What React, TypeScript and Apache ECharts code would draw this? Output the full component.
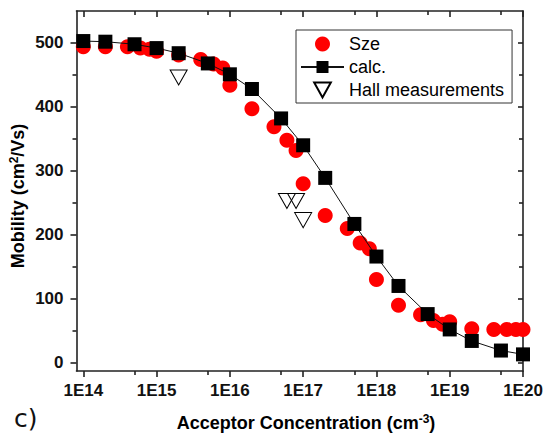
import React, { useEffect, useRef } from "react";
import * as echarts from "echarts";

// Sze reference data (concentration in cm^-3, mobility in cm^2/Vs)
const szeConc = [1e14, 2e14, 4e14, 6e14, 8e14, 1e15, 2e15, 4e15, 6e15, 8e15, 1e16, 2e16, 4e16, 6e16, 8e16, 1e17, 2e17, 4e17, 6e17, 8e17, 1e18, 2e18, 4e18, 6e18, 8e18, 1e19, 2e19, 4e19, 6e19, 8e19, 1e20];
const szeMobility = [494, 494, 494, 492, 490, 487, 481, 474, 467, 461, 434, 397, 369, 348, 332, 280, 230, 210, 187, 178, 130, 90, 75, 66, 60, 64, 53, 52, 52, 52, 52];

// calculated curve
const calcConc = [1e14, 2e14, 5e14, 1e15, 2e15, 5e15, 1e16, 2e16, 5e16, 1e17, 2e17, 5e17, 1e18, 2e18, 5e18, 1e19, 2e19, 5e19, 1e20];
const calcMobility = [503, 502, 498, 492, 484, 468, 451, 428, 382, 340, 289, 217, 166, 120, 76, 52, 34, 19, 13];

// Hall measurements
const hallConc = [2e15, 6e16, 8e16, 1e17];
const hallMobility = [446, 253, 253, 223];

// axis ticks
const xMajorExp = [14, 15, 16, 17, 18, 19, 20];
const xMinorExp = [14, 15, 16, 17, 18, 19].map((e) => e + Math.log10(5));
const yMajor = [0, 100, 200, 300, 400, 500];
const yMinor = [50, 150, 250, 350, 450];

const X_MIN = 13.907;
const X_MAX = 20;
const Y_MIN = -13;
const Y_MAX = 550;

const AXIS_COLOR = "#222";
const FONT = "Arial";

function toPoints(xs: number[], ys: number[]) {
  return xs.map((x, i) => [Math.log10(x), ys[i]]);
}

export default function App() {
  const ref = useRef<HTMLDivElement>(null);

  useEffect(() => {
    if (!ref.current) return;
    const chart = echarts.init(ref.current, undefined, { renderer: "svg" });

    const lineStyle = { color: AXIS_COLOR, width: 1.6 };

    const xBase = (extra: any) => ({
      type: "value",
      min: X_MIN,
      max: X_MAX,
      splitLine: { show: false },
      ...extra,
    });
    const yBase = (extra: any) => ({
      type: "value",
      min: Y_MIN,
      max: Y_MAX,
      splitLine: { show: false },
      ...extra,
    });

    const richFor = (size: number) => ({
      b: { fontSize: size, fontWeight: "bold", fontFamily: FONT, color: "#111", lineHeight: size + 3 },
      s: { fontSize: Math.round(size * 0.65), fontWeight: "bold", fontFamily: FONT, color: "#111", verticalAlign: "top" },
    });

    const option: any = {
      animation: false,
      grid: {
        left: 76.5,
        right: 23,
        top: 11,
        bottom: 68,
        containLabel: false,
        outerBoundsMode: "none",
      },
      legend: {
        orient: "vertical",
        left: 296,
        top: 30,
        itemWidth: 43,
        itemHeight: 15,
        itemGap: 5,
        padding: [5, 8, 4, 4],
        borderColor: "#333",
        borderWidth: 1,
        textStyle: { fontSize: 18, fontFamily: FONT, color: "#000" },
        data: ["Sze", "calc.", "Hall measurements"],
      },
      xAxis: [
        xBase({
          position: "bottom",
          axisLine: { show: true, onZero: false, lineStyle },
          axisTick: { show: true, inside: false, length: 6, customValues: xMajorExp, lineStyle },
          axisLabel: {
            show: true,
            customValues: xMajorExp,
            formatter: (v: number) => "1E" + Math.round(v),
            fontSize: 17,
            fontWeight: "bold",
            fontFamily: FONT,
            color: "#111",
            margin: 11,
          },
        }),
        xBase({
          position: "bottom",
          axisLine: { show: false, onZero: false },
          axisTick: { show: true, inside: false, length: 4, customValues: xMinorExp, lineStyle },
          axisLabel: { show: false },
        }),
        xBase({
          position: "top",
          axisLine: { show: true, onZero: false, lineStyle },
          axisTick: { show: true, inside: true, length: 6, customValues: xMajorExp, lineStyle },
          axisLabel: { show: false },
        }),
        xBase({
          position: "top",
          axisLine: { show: false, onZero: false },
          axisTick: { show: true, inside: true, length: 4, customValues: xMinorExp, lineStyle },
          axisLabel: { show: false },
        }),
      ],
      yAxis: [
        yBase({
          position: "left",
          axisLine: { show: true, onZero: false, lineStyle },
          axisTick: { show: true, inside: false, length: 6, customValues: yMajor, lineStyle },
          axisLabel: {
            show: true,
            customValues: yMajor,
            fontSize: 17,
            fontWeight: "bold",
            fontFamily: FONT,
            color: "#111",
            margin: 13,
          },
        }),
        yBase({
          position: "left",
          offset: 0,
          axisLine: { show: false, onZero: false },
          axisTick: { show: true, inside: false, length: 4, customValues: yMinor, lineStyle },
          axisLabel: { show: false },
        }),
        yBase({
          position: "right",
          offset: 0,
          axisLine: { show: true, onZero: false, lineStyle },
          axisTick: { show: true, inside: true, length: 5, customValues: yMajor, lineStyle },
          axisLabel: { show: false },
        }),
        yBase({
          position: "right",
          offset: 0,
          axisLine: { show: false, onZero: false },
          axisTick: { show: true, inside: true, length: 4, customValues: yMinor, lineStyle },
          axisLabel: { show: false },
        }),
      ],
      series: [
        {
          name: "Sze",
          type: "scatter",
          xAxisIndex: 0,
          yAxisIndex: 0,
          symbol: "circle",
          symbolSize: 15,
          itemStyle: { color: "#ff0000", opacity: 1 },
          data: toPoints(szeConc, szeMobility),
          z: 2,
        },
        {
          name: "calc.",
          type: "line",
          xAxisIndex: 0,
          yAxisIndex: 0,
          symbol: "rect",
          symbolSize: 14,
          showAllSymbol: true,
          itemStyle: { color: "#000" },
          lineStyle: { color: "#111", width: 1 },
          data: toPoints(calcConc, calcMobility),
          z: 3,
        },
        {
          name: "Hall measurements",
          type: "scatter",
          xAxisIndex: 0,
          yAxisIndex: 0,
          symbol: "path://M0,0L20,0L10,18Z",
          symbolSize: [17, 15],
          itemStyle: { color: "rgba(0,0,0,0)", borderColor: "#000", borderWidth: 1, opacity: 1 },
          data: toPoints(hallConc, hallMobility),
          z: 4,
        },
      ],
      graphic: [
        {
          type: "text",
          x: 18,
          y: 196,
          rotation: Math.PI / 2,
          style: {
            text: "{b|Mobility (cm}{s|2}{b|/Vs)}",
            rich: richFor(18),
            align: "center",
            verticalAlign: "middle",
          },
        },
        {
          type: "text",
          x: 306,
          y: 423,
          style: {
            text: "{b|Acceptor Concentration (cm}{s|-3}{b|)}",
            rich: richFor(18),
            align: "center",
            verticalAlign: "middle",
          },
        },
        {
          type: "text",
          left: 14,
          top: 406,
          style: { text: "c)", fontSize: 25, fontFamily: "'DejaVu Sans', sans-serif", fill: "#111" },
        },
      ],
    };

    chart.setOption(option);
    return () => chart.dispose();
  }, []);

  return (
    <div
      ref={ref}
      style={{ position: "fixed", left: 0, top: 0, width: 546, height: 439, background: "#fff" }}
    />
  );
}
